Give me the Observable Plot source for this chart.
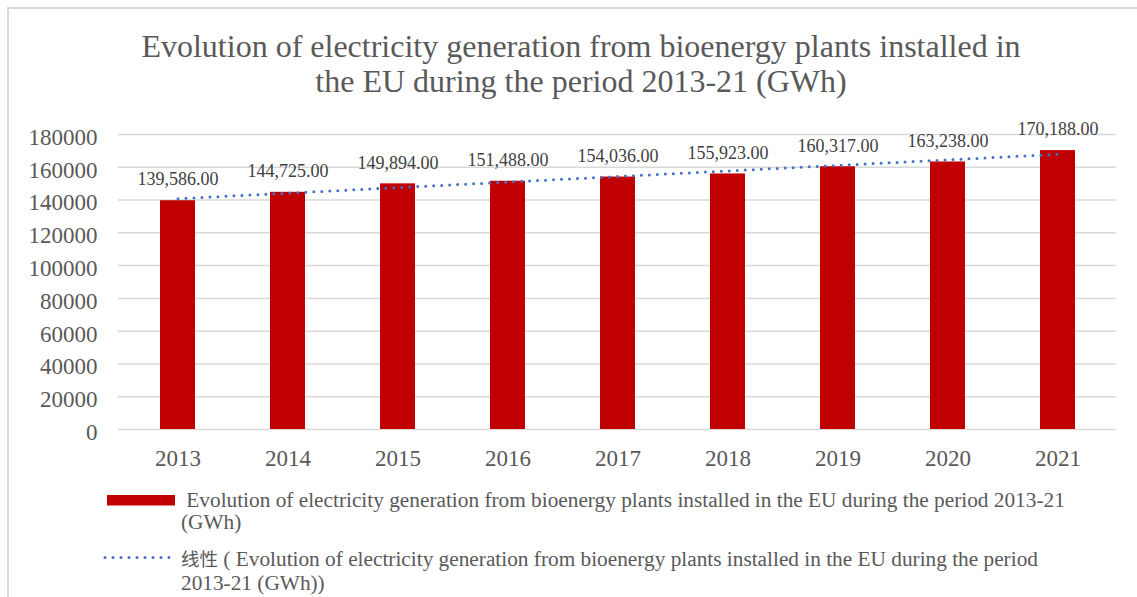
<!DOCTYPE html>
<html><head><meta charset="utf-8">
<script src="https://cdn.jsdelivr.net/npm/d3@7"></script>
<script src="https://cdn.jsdelivr.net/npm/@observablehq/plot@0.6"></script>
<style>
html,body{margin:0;padding:0;background:#fff;}
body{width:1137px;height:597px;overflow:hidden;position:relative;font-family:"Liberation Serif",serif;color:#595959;}
#frame{position:absolute;left:7px;top:7px;width:1300px;height:800px;border-left:2px solid #d9d9d9;border-top:2px solid #d9d9d9;}
#title{position:absolute;left:0;width:1162px;top:29px;text-align:center;font-size:32px;line-height:35px;font-family:"Liberation Serif",serif;}
#chart{position:absolute;left:0;top:100px;}
#chart svg, #chart svg text{font-family:"Liberation Serif",serif !important;}
.leg{position:absolute;font-size:21.3px;line-height:22px;height:22px;font-family:"Liberation Serif",serif;white-space:nowrap;}
.cjk{font-family:"Noto Sans CJK SC",sans-serif;font-size:18.5px;display:inline-block;line-height:22px;height:22px;}
</style>
</head><body>
<div id="frame"></div>
<div id="title">Evolution of electricity generation from bioenergy plants installed in<br>the EU during the period 2013-21 (GWh)</div>
<div id="chart"></div>
<div class="leg" style="left:181px;top:489px;">&nbsp;Evolution of electricity generation from bioenergy plants installed in the EU during the period 2013-21</div>
<div class="leg" style="left:181px;top:511px;">(GWh)</div>
<div class="leg" style="left:181px;top:547px;"><span class="cjk">线性</span> ( Evolution of electricity generation from bioenergy plants installed in the EU during the period</div>
<div class="leg" style="left:181px;top:572px;">2013-21 (GWh))</div>
<svg style="position:absolute;left:100px;top:490px" width="80" height="80">
  <rect x="7" y="5" width="68" height="10.5" fill="#C00000"></rect>
  <line x1="5" x2="73" y1="67.5" y2="67.5" stroke="#4472C4" stroke-width="3" stroke-linecap="round" stroke-dasharray="0 8"></line>
</svg>
<script>
const years = ["2013","2014","2015","2016","2017","2018","2019","2020","2021"];
const values = [139586, 144725, 149894, 151488, 154036, 155923, 160317, 163238, 170188];
const yTicks = [0,20000,40000,60000,80000,100000,120000,140000,160000,180000];

const data = years.map((y,i)=>({year:y, value:values[i], idx:i}));
// linear trend (least squares) of the series
const mx = d3.mean(data, d=>d.idx), my = d3.mean(values);
const slope = d3.sum(data, d=>(d.idx-mx)*(d.value-my)) / d3.sum(data, d=>(d.idx-mx)**2);
const trend = data.map(d=>({year:d.year, value: my + slope*(d.idx-mx)}));

const fmt = d3.format(",.2f");
const chart = Plot.plot({
  width: 1137,
  height: 380,
  marginLeft: 118,
  marginRight: 21,
  marginTop: 34,
  marginBottom: 51,
  style: {fontFamily: "Liberation Serif, serif", color: "#595959", background: "transparent", overflow: "visible"},
  x: {domain: years, paddingInner: 0.684, paddingOuter: 0.342, label: null, tickSize: 0, tickPadding: 20},
  y: {domain: [0,180000], ticks: yTicks, label: null, tickSize: 0, tickPadding: 21, tickFormat: d=>String(d)},
  marks: [
    Plot.gridY(yTicks, {stroke: "#d9d9d9", strokeOpacity: 1, strokeWidth: 1.5}),
    Plot.axisY({ticks: yTicks, tickSize: 0, tickPadding: 21, tickFormat: d=>String(d), fontSize: 23, fill: "#595959", dy: 3}),
    Plot.axisX({tickSize: 0, tickPadding: 20, fontSize: 23, fill: "#595959"}),
    Plot.barY(data, {x: "year", y: "value", fill: "#C00000"}),
    Plot.line(trend, {x: "year", y: "value", stroke: "#4472C4", strokeWidth: 3, strokeLinecap: "round", strokeDasharray: "0 8"}),
    Plot.text(data, {x: "year", y: "value", text: d=>fmt(d.value), dy: -21, fontSize: 18, fill: "#404040"})
  ]
});
document.getElementById("chart").appendChild(chart);
</script>
</body></html>
